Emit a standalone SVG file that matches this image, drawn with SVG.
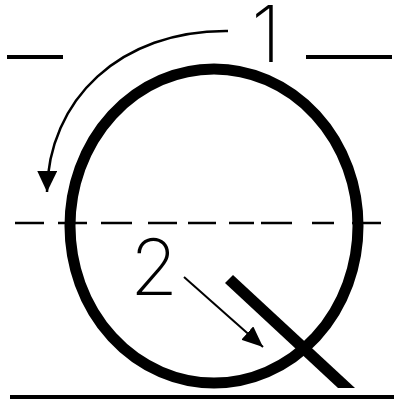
<svg xmlns="http://www.w3.org/2000/svg" width="394" height="408" viewBox="0 0 394 408">
  <style>
    .guide { stroke: #000; stroke-width: 4; fill: none; }
    .dash { stroke: #000; stroke-width: 2.5; fill: none; }
    .letter { stroke: #000; stroke-width: 11; fill: none; }
    .arrow { stroke: #000; fill: none; }
    .num { font-family: Inter, Lato, "DejaVu Sans", sans-serif; font-weight: 200; font-size: 78px; fill: #000; text-anchor: middle; }
  </style>
  <defs>
    <marker id="head1" markerUnits="userSpaceOnUse" markerWidth="22" markerHeight="20" refX="21" refY="10" orient="auto" viewBox="0 0 22 20">
      <path d="M0,0 L21,10 L0,20 Z" fill="#000"/>
    </marker>
    <marker id="head2" markerUnits="userSpaceOnUse" markerWidth="22" markerHeight="18" refX="21" refY="9" orient="auto" viewBox="0 0 22 18">
      <path d="M0,0 L21,9 L0,18 Z" fill="#000"/>
    </marker>
  </defs>
  <rect width="394" height="408" fill="#fff"/>
  <g id="guides">
    <line class="guide" x1="7" y1="57" x2="63" y2="57"/>
    <line class="guide" x1="306" y1="57" x2="392" y2="57"/>
    <line class="guide" x1="10" y1="397" x2="394" y2="397"/>
    <path class="dash" d="M15,223 H44 M58,223 H87 M101,223 H132 M148,223 H177 M188,223 H216 M229,223 H254 M261,223 H292 M312,223 H334 M352,223 H381"/>
  </g>
  <g id="letter-q">
    <ellipse class="letter" cx="214" cy="226" rx="144" ry="157"/>
    <polygon points="225,283 233,275 355,388 338,388" fill="#000"/>
  </g>
  <g id="connectors">
    <path class="arrow" stroke-width="2.5" d="M228,31 C120,30 48,100 47,192" marker-end="url(#head1)"/>
    <path class="arrow" stroke-width="2" d="M184,277 L263,347" marker-end="url(#head2)"/>
  </g>
  <g id="label-1">
    <text class="num" x="266" y="62">1</text>
  </g>
  <g id="label-2">
    <text class="num" x="154" y="295">2</text>
  </g>
</svg>
